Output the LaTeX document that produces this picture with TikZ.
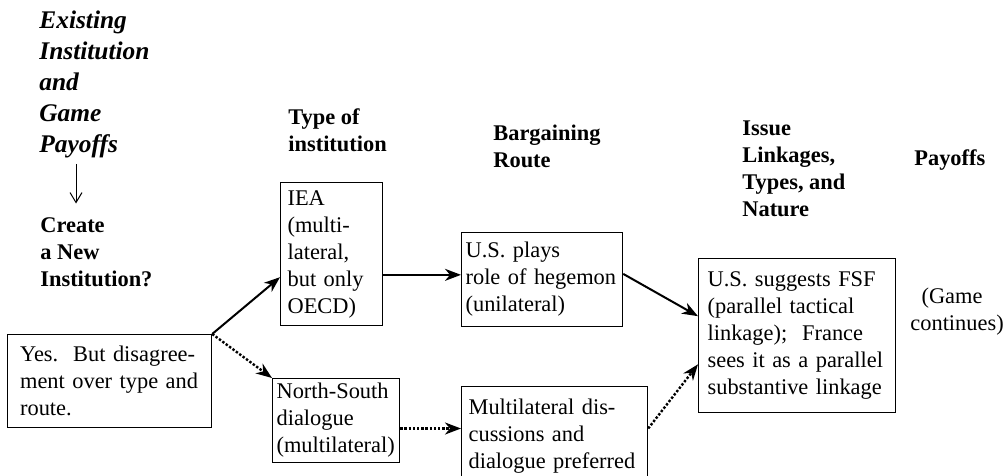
\documentclass[tikz,border=0pt]{standalone}
\usepackage{fontspec}
\setmainfont{Liberation Serif}
\usetikzlibrary{arrows.meta, positioning, calc}

\begin{document}
\begin{tikzpicture}[
  x=0.5pt, y=-0.5pt,
  font=\fontsize{11.2}{13.5}\selectfont,
  box/.style={draw, line width=0.6pt, anchor=north west, align=left,
              inner xsep=3.5pt, inner ysep=0pt},
  heading/.style={anchor=north west, align=left, inner sep=0pt,
                  font=\fontsize{11.2}{13.5}\selectfont\bfseries},
  arr/.style={-{Stealth[length=8pt, width=6pt, inset=2.5pt]}, line width=1pt},
  dotarr/.style={arr, line width=1.2pt, dash pattern=on 1.2pt off 0.9pt},
  downarr/.style={-{Straight Barb[length=5pt, width=6pt]}, line width=0.5pt}
]
  \useasboundingbox (0,0) rectangle (1007,476);

  % column headings
  \node[heading, font=\fontsize{12.7}{15.5}\selectfont\bfseries\itshape]
    (exist) at (39,10) {Existing\\Institution\\and\\Game\\Payoffs};
  \node[heading] (create) at (40,217.5) {Create\\a New\\Institution?};
  \node[heading] (typeinst) at (288,108.5) {Type of\\institution};
  \node[heading] (route) at (493,124.5) {Bargaining\\Route};
  \node[heading] (issue) at (742,120.5) {Issue\\Linkages,\\Types, and\\Nature};
  \node[heading] (payoffs) at (914,149.5) {Payoffs};

  \draw[downarr] ([xshift=18.5pt, yshift=-3pt]exist.south west)
    -- ([xshift=18pt, yshift=7pt]create.north west);

  % boxes
  \node[box, text width=89.5pt, inner xsep=6.25pt, minimum height=46.5pt]
    (yes) at (7,334) {Yes.\ \ But disagree-\\ment over type and\\route.};
  \node[box, text width=44pt, minimum height=71.5pt]
    (iea) at (280,182) {IEA\\(multi-\\lateral,\\but only\\OECD)};
  \node[box, text width=59.5pt, inner xsep=2pt, minimum height=42pt]
    (ns) at (272,378) {North-South\\dialogue\\(multilateral)};
  \node[box, text width=76.5pt, inner xsep=2pt, minimum height=47pt]
    (heg) at (461,232) {U.S. plays\\role of hegemon\\(unilateral)};
  \node[box, text width=86pt, minimum height=50pt]
    (multi) at (461,386) {Multilateral dis-\\cussions and\\dialogue preferred};
  \node[box, text width=89.5pt, inner xsep=4.5pt, minimum height=77pt]
    (fsf) at (698,258) {U.S. suggests FSF\\(parallel tactical\\linkage);\ \ France\\sees it as a parallel\\substantive linkage};

  \node[anchor=north west, align=left, inner sep=0pt]
    (game) at (910,287.5) {\ \ (Game\\continues)};

  \coordinate (ieain) at ($(iea.south west)!0.34!(iea.north west)$);
  \coordinate (hegin) at ($(heg.north west)!0.45!(heg.south west)$);
  \coordinate (hegout) at ($(heg.north east)!0.44!(heg.south east)$);
  \coordinate (multiin) at ($(multi.north west)!0.42!(multi.south west)$);
  \coordinate (fsfup) at ($(fsf.north west)!0.375!(fsf.south west)$);
  \coordinate (fsflow) at ($(fsf.north west)!0.685!(fsf.south west)$);

  % routes
  \draw[arr] (yes.north east) -- (ieain);
  \draw[dotarr] (yes.north east) -- (ns.north west);
  \draw[arr] (iea.east |- hegin) -- (hegin);
  \draw[dotarr] (ns.east |- multiin) -- (multiin);
  \draw[arr] (hegout) -- (fsfup);
  \draw[dotarr] (multi.east |- multiin) -- (fsflow);
\end{tikzpicture}
\end{document}
